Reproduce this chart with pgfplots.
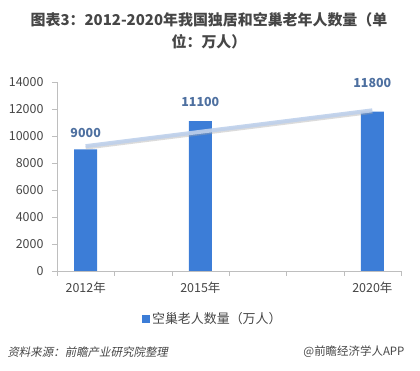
\documentclass[border=0pt]{standalone}
\usepackage{pgfplots}
\pgfplotsset{compat=1.18}
\usepackage{fontspec}
\setmainfont{Noto Sans CJK SC}
\newfontfamily\slantfont[FakeSlant=0.2]{Noto Sans CJK SC}
\definecolor{barblue}{RGB}{60,125,215}
\definecolor{lblblue}{RGB}{78,112,160}
\definecolor{trend}{RGB}{190,208,235}
\definecolor{axgray}{RGB}{190,190,190}
\definecolor{txtgray}{RGB}{70,70,70}
\begin{document}
\begin{tikzpicture}[x=1bp,y=1bp]
\path[use as bounding box] (0,0) rectangle (420,371);
\node[font=\bfseries\fontsize{15}{22}\selectfont, text=txtgray, align=center] at (209,340)
  {图表3：2012-2020年我国独居和空巢老年人数量（单\\位：万人）};
\begin{axis}[
  at={(57bp,100bp)}, anchor=south west,
  scale only axis, width=344bp, height=189bp,
  clip=false,
  xmin=-0.5, xmax=5.5, ymin=0, ymax=14000,
  axis x line*=bottom, axis y line*=left,
  axis line style={axgray},
  tick align=outside, major tick length=5bp,
  tick style={axgray},
  xtick={-0.5,0.5,...,5.5}, xticklabels={},
  extra x ticks={0,2,5}, extra x tick labels={2012年,2015年,2020年},
  extra x tick style={major tick length=0pt, xticklabel style={yshift=-7bp}},
  ytick={0,2000,...,14000},
  yticklabel style={xshift=-5bp},
  /pgf/number format/assume math mode=true,
  /pgf/number format/1000 sep={},
  tick label style={font=\fontsize{12.5}{14}\selectfont, text=txtgray},
  scaled y ticks=false,
  legend style={at={(0.453,-0.254)}, anchor=center, draw=none, fill=none,
    font=\fontsize{13}{14}\selectfont, text=txtgray, inner sep=0pt},
  legend image code/.code={\fill[barblue] (0bp,-4bp) rectangle (8bp,4bp);},
]
\addplot[ybar, bar width=23bp, fill=barblue, draw=none] coordinates {(0,9000) (2,11100) (5,11800)};
\addlegendentry{空巢老人数量（万人）}
\addplot[forget plot, draw=gray!70, line width=4bp, opacity=0.4, yshift=-1.5bp] coordinates {(0,9250) (5,11900)};
\addplot[forget plot, draw=trend, line width=4bp, opacity=0.9] coordinates {(0,9250) (5,11900)};
\addplot[forget plot, draw=none, mark=none, nodes near coords, point meta=explicit symbolic,
  every node near coord/.append style={font=\bfseries\fontsize{12.5}{14}\selectfont, text=lblblue, anchor=center, inner sep=0pt}]
  coordinates {(0,10220)[9000] (2,12520)[11100] (5,13930)[11800]};
\end{axis}
\node[anchor=west, font=\slantfont\fontsize{11.5}{13}\selectfont, text=txtgray] at (4,19) {资料来源：前瞻产业研究院整理};
\node[anchor=east, font=\fontsize{11.5}{13}\selectfont, text=txtgray] at (408,19) {@前瞻经济学人APP};
\end{tikzpicture}
\end{document}
